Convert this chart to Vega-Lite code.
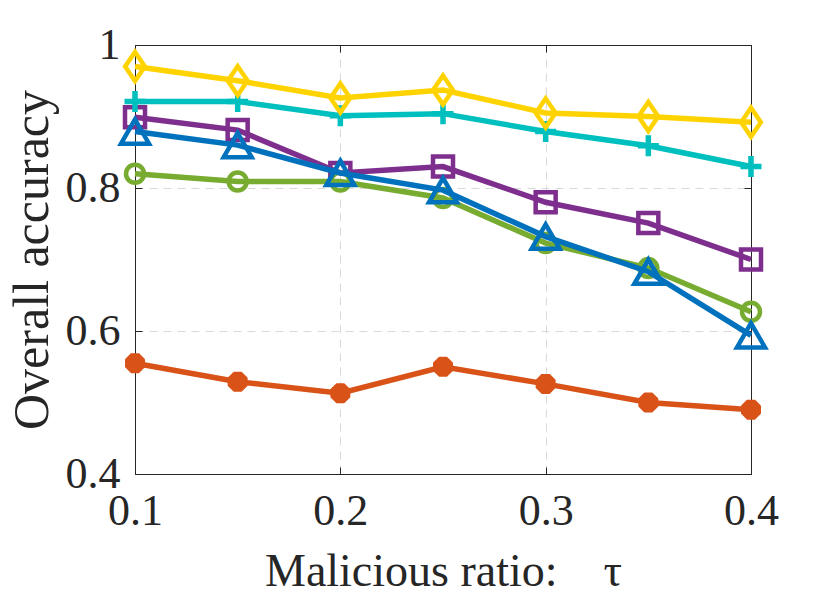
{
  "$schema": "https://vega.github.io/schema/vega-lite/v6.json",
  "width": 616,
  "height": 429,
  "autosize": {"type": "none"},
  "padding": {"left": 135, "top": 45, "right": 79, "bottom": 128},
  "background": "white",
  "data": {
    "values": [
      {"s": "yellow", "tau": 0.1, "acc": 0.970},
      {"s": "yellow", "tau": 0.15, "acc": 0.950},
      {"s": "yellow", "tau": 0.2, "acc": 0.926},
      {"s": "yellow", "tau": 0.25, "acc": 0.937},
      {"s": "yellow", "tau": 0.3, "acc": 0.905},
      {"s": "yellow", "tau": 0.35, "acc": 0.900},
      {"s": "yellow", "tau": 0.4, "acc": 0.892},
      {"s": "cyan", "tau": 0.1, "acc": 0.921},
      {"s": "cyan", "tau": 0.15, "acc": 0.921},
      {"s": "cyan", "tau": 0.2, "acc": 0.901},
      {"s": "cyan", "tau": 0.25, "acc": 0.904},
      {"s": "cyan", "tau": 0.3, "acc": 0.879},
      {"s": "cyan", "tau": 0.35, "acc": 0.859},
      {"s": "cyan", "tau": 0.4, "acc": 0.830},
      {"s": "purple", "tau": 0.1, "acc": 0.899},
      {"s": "purple", "tau": 0.15, "acc": 0.881},
      {"s": "purple", "tau": 0.2, "acc": 0.821},
      {"s": "purple", "tau": 0.25, "acc": 0.830},
      {"s": "purple", "tau": 0.3, "acc": 0.780},
      {"s": "purple", "tau": 0.35, "acc": 0.751},
      {"s": "purple", "tau": 0.4, "acc": 0.700},
      {"s": "blue", "tau": 0.1, "acc": 0.879},
      {"s": "blue", "tau": 0.15, "acc": 0.860},
      {"s": "blue", "tau": 0.2, "acc": 0.821},
      {"s": "blue", "tau": 0.25, "acc": 0.797},
      {"s": "blue", "tau": 0.3, "acc": 0.732},
      {"s": "blue", "tau": 0.35, "acc": 0.683},
      {"s": "blue", "tau": 0.4, "acc": 0.594},
      {"s": "green", "tau": 0.1, "acc": 0.820},
      {"s": "green", "tau": 0.15, "acc": 0.809},
      {"s": "green", "tau": 0.2, "acc": 0.809},
      {"s": "green", "tau": 0.25, "acc": 0.786},
      {"s": "green", "tau": 0.3, "acc": 0.723},
      {"s": "green", "tau": 0.35, "acc": 0.688},
      {"s": "green", "tau": 0.4, "acc": 0.627},
      {"s": "orange", "tau": 0.1, "acc": 0.555},
      {"s": "orange", "tau": 0.15, "acc": 0.529},
      {"s": "orange", "tau": 0.2, "acc": 0.513},
      {"s": "orange", "tau": 0.25, "acc": 0.550},
      {"s": "orange", "tau": 0.3, "acc": 0.526},
      {"s": "orange", "tau": 0.35, "acc": 0.500},
      {"s": "orange", "tau": 0.4, "acc": 0.490}
    ]
  },
  "layer": [
    {
      "encoding": {
        "x": {
          "field": "tau",
          "type": "quantitative",
          "scale": {"domain": [0.1, 0.4], "nice": false, "zero": false},
          "axis": {
            "values": [0.1, 0.2, 0.3, 0.4],
            "format": ".1f",
            "title": "Malicious ratio:\u2002\u2002τ",
            "labelPadding": 22,
            "titlePadding": 16
          }
        },
        "y": {
          "field": "acc",
          "type": "quantitative",
          "scale": {"domain": [0.4, 1], "nice": false, "zero": false},
          "axis": {
            "values": [0.4, 0.6, 0.8, 1],
            "labelExpr": "datum.value == 1 ? '1' : format(datum.value, '.1f')",
            "title": "Overall accuracy",
            "titleFontSize": 50,
            "labelPadding": 22,
            "titlePadding": 8
          }
        }
      },
      "layer": [
        {
          "transform": [{"filter": "datum.s === 'orange'"}],
          "mark": {
            "type": "line", "color": "#D95319", "strokeWidth": 5.5,
            "point": {"shape": "M-1,0H1M0,-1V1M-0.7,-0.7L0.7,0.7M-0.7,0.7L0.7,-0.7", "filled": false, "size": 400, "strokeWidth": 8, "color": "#D95319"}
          }
        },
        {
          "transform": [{"filter": "datum.s === 'purple'"}],
          "mark": {
            "type": "line", "color": "#7E2F8E", "strokeWidth": 5.5,
            "point": {"shape": "square", "filled": false, "size": 400, "strokeWidth": 4.5, "color": "#7E2F8E"}
          }
        },
        {
          "transform": [{"filter": "datum.s === 'green'"}],
          "mark": {
            "type": "line", "color": "#77AC30", "strokeWidth": 5.5,
            "point": {"shape": "circle", "filled": false, "size": 324, "strokeWidth": 4.5, "color": "#77AC30"}
          }
        },
        {
          "transform": [{"filter": "datum.s === 'blue'"}],
          "mark": {
            "type": "line", "color": "#0072BD", "strokeWidth": 5.5,
            "point": {"shape": "triangle-up", "filled": false, "size": 784, "strokeWidth": 4.5, "color": "#0072BD"}
          }
        },
        {
          "transform": [{"filter": "datum.s === 'cyan'"}],
          "mark": {
            "type": "line", "color": "#00BFBF", "strokeWidth": 5.5,
            "point": {"shape": "M-1,0H1M0,-1V1", "filled": false, "size": 441, "strokeWidth": 5.5, "color": "#00BFBF"}
          }
        },
        {
          "transform": [{"filter": "datum.s === 'yellow'"}],
          "mark": {
            "type": "line", "color": "#FFD300", "strokeWidth": 5.5,
            "point": {"shape": "M0,-1L0.68,0L0,1L-0.68,0Z", "filled": false, "size": 841, "strokeWidth": 4.5, "color": "#FFD300"}
          }
        }
      ]
    },
    {
      "mark": {"type": "point", "opacity": 0},
      "encoding": {
        "x": {
          "field": "tau",
          "type": "quantitative",
          "axis": {"orient": "top", "values": [0.1, 0.2, 0.3, 0.4], "labels": false, "domain": true, "grid": false, "title": null}
        },
        "y": {
          "field": "acc",
          "type": "quantitative",
          "axis": {"orient": "right", "values": [0.4, 0.6, 0.8, 1], "labels": false, "domain": true, "grid": false, "title": null}
        }
      }
    }
  ],
  "resolve": {"axis": {"x": "independent", "y": "independent"}},
  "config": {
    "view": {"stroke": "#262626", "strokeWidth": 1},
    "axis": {
      "labelFont": "Liberation Serif",
      "titleFont": "Liberation Serif",
      "labelFontSize": 44,
      "titleFontSize": 46,
      "titleFontWeight": "normal",
      "labelColor": "#262626",
      "titleColor": "#262626",
      "domainColor": "#262626",
      "tickColor": "#262626",
      "tickSize": -7,
      "labelOverlap": false,
      "labelFlush": false,
      "labelBound": false,
      "gridColor": "#d9d9d9",
      "gridDash": [8, 6],
      "gridWidth": 1
    }
  }
}
